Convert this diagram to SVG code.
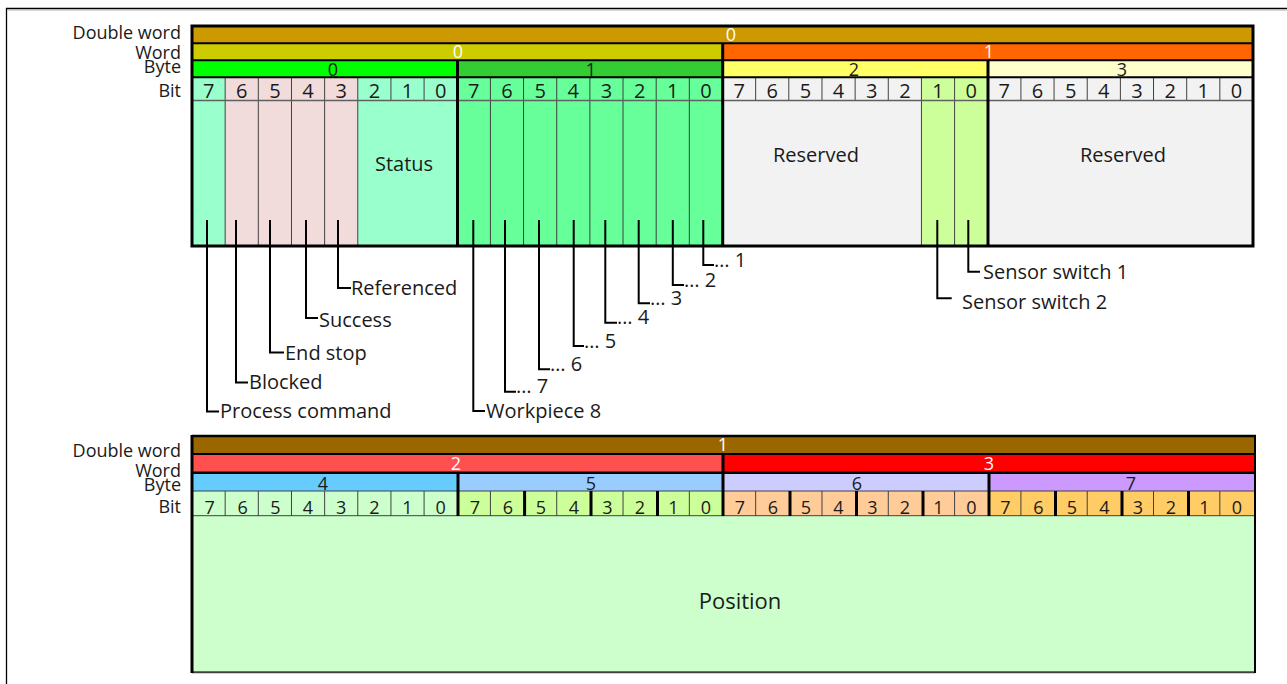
<svg xmlns="http://www.w3.org/2000/svg" width="1287" height="684" viewBox="0 0 1287 684">
<style>
text{font-family:"Open Sans","Liberation Sans",sans-serif;fill:#1a1a1a}
.lbl{font-size:18px;text-anchor:end}
.bit{font-size:20px;text-anchor:middle}
.bitb{font-size:18px;text-anchor:middle}
.bar{font-size:18px;text-anchor:middle}
.wt{fill:#fff}
.ct{font-size:20px}
.big{font-size:20px;text-anchor:middle}
.thin{stroke:#404040;stroke-width:1;fill:none}
.thick{stroke:#000;stroke-width:3;fill:none}
.hl{stroke:#000;stroke-width:2;fill:none}
.co{fill:none;stroke:#000;stroke-width:2}
</style>
<rect width="1287" height="684" fill="#fff"/>
<g id="frame">
<path d="M6.5 684 V8.5 H1287" fill="none" stroke="#000" stroke-width="1.3"/>
<path d="M7.5 10 H1287" fill="none" stroke="#b0b0b0" stroke-width="1"/>
</g>

<!-- ===================== TOP REGISTER ===================== -->
<g id="top-labels">
<text class="lbl" x="181" y="38.5">Double word</text>
<text class="lbl" x="181" y="58.5">Word</text>
<text class="lbl" x="181" y="72.5">Byte</text>
<text class="lbl" x="181" y="96.5">Bit</text>
</g>
<g id="top-dword0">
<rect x="192" y="27" width="1061" height="16" fill="#CC9900"/>
<text class="bar wt" x="731" y="41">0</text>
</g>
<g id="top-word0">
<rect x="192" y="44" width="530.5" height="16" fill="#CCCC00"/>
<text class="bar wt" x="458" y="58">0</text>
</g>
<g id="top-word1">
<rect x="722.5" y="44" width="530.5" height="16" fill="#FF6600"/>
<text class="bar wt" x="989" y="58">1</text>
</g>
<g id="top-byte0">
<rect x="192" y="61" width="265.25" height="16" fill="#00FF00"/>
<text class="bar" x="333" y="76">0</text>
</g>
<g id="top-byte1">
<rect x="457.25" y="61" width="265.25" height="16" fill="#33CC33"/>
<text class="bar" x="591" y="76">1</text>
</g>
<g id="top-byte2">
<rect x="722.5" y="61" width="265.25" height="16" fill="#FFFF66"/>
<text class="bar" x="854" y="76">2</text>
</g>
<g id="top-byte3">
<rect x="987.75" y="61" width="265.25" height="16" fill="#FFFFCC"/>
<text class="bar" x="1122" y="76">3</text>
</g>
<g id="top-columns">
<rect x="192" y="78" width="33.16" height="168" fill="#99FFCC"/>
<rect x="225.16" y="78" width="132.62" height="168" fill="#F2DCDB"/>
<rect x="357.78" y="78" width="99.47" height="168" fill="#99FFCC"/>
<rect x="457.25" y="78" width="265.25" height="168" fill="#66FF99"/>
<rect x="722.5" y="78" width="198.94" height="168" fill="#F2F2F2"/>
<rect x="921.44" y="78" width="66.31" height="168" fill="#CCFF99"/>
<rect x="987.75" y="78" width="265.25" height="168" fill="#F2F2F2"/>
</g>
<g id="top-bits">
<text class="bit" x="208.6" y="98">7</text><text class="bit" x="241.7" y="98">6</text><text class="bit" x="274.9" y="98">5</text><text class="bit" x="308.0" y="98">4</text><text class="bit" x="341.2" y="98">3</text><text class="bit" x="374.4" y="98">2</text><text class="bit" x="407.5" y="98">1</text><text class="bit" x="440.7" y="98">0</text>
<text class="bit" x="473.8" y="98">7</text><text class="bit" x="507.0" y="98">6</text><text class="bit" x="540.1" y="98">5</text><text class="bit" x="573.3" y="98">4</text><text class="bit" x="606.5" y="98">3</text><text class="bit" x="639.6" y="98">2</text><text class="bit" x="672.8" y="98">1</text><text class="bit" x="705.9" y="98">0</text>
<text class="bit" x="739.1" y="98">7</text><text class="bit" x="772.2" y="98">6</text><text class="bit" x="805.4" y="98">5</text><text class="bit" x="838.5" y="98">4</text><text class="bit" x="871.7" y="98">3</text><text class="bit" x="904.9" y="98">2</text><text class="bit" x="938.0" y="98">1</text><text class="bit" x="971.2" y="98">0</text>
<text class="bit" x="1004.3" y="98">7</text><text class="bit" x="1037.5" y="98">6</text><text class="bit" x="1070.6" y="98">5</text><text class="bit" x="1103.8" y="98">4</text><text class="bit" x="1137.0" y="98">3</text><text class="bit" x="1170.1" y="98">2</text><text class="bit" x="1203.3" y="98">1</text><text class="bit" x="1236.4" y="98">0</text>
</g>
<g id="top-grid">
<path class="thin" d="M225.16 78V100M258.31 78V100M291.47 78V100M324.63 78V100M357.78 78V100M390.94 78V100M424.09 78V100M490.41 78V100M523.56 78V100M556.72 78V100M589.88 78V100M623.03 78V100M656.19 78V100M689.34 78V100M755.66 78V100M788.81 78V100M821.97 78V100M855.13 78V100M888.28 78V100M921.44 78V100M954.59 78V100M1020.91 78V100M1054.06 78V100M1087.22 78V100M1120.38 78V100M1153.53 78V100M1186.69 78V100M1219.84 78V100"/>
<path class="thin" d="M225.16 100V246M258.31 100V246M291.47 100V246M324.63 100V246M357.78 100V246M490.41 100V246M523.56 100V246M556.72 100V246M589.88 100V246M623.03 100V246M656.19 100V246M689.34 100V246M921.44 100V246M954.59 100V246"/>
<path d="M192 100.5H1253" stroke="#606060" stroke-width="1.3" fill="none"/>
<path class="hl" d="M192 43.3H1253M192 60.3H1253M192 77.2H1253"/>
<path class="thick" d="M457.5 61V246M722.7 43V246M988 61V246"/>
<rect x="192" y="26" width="1061" height="220" fill="none" stroke="#000" stroke-width="3"/>
</g>
<g id="top-body-labels">
<text class="big" x="404" y="171">Status</text>
<text class="big" x="816" y="162">Reserved</text>
<text class="big" x="1123" y="162">Reserved</text>
</g>

<!-- connectors (callouts) -->
<g id="connectors">
<path class="co" d="M338 220V288H351"/>
<path class="co" d="M306 220V318H318"/>
<path class="co" d="M270 220V352.5H284"/>
<path class="co" d="M236 220V382.5H248"/>
<path class="co" d="M207 220V411.5H219"/>
<path class="co" d="M703.3 220V265H714"/>
<path class="co" d="M672.8 220V285H684"/>
<path class="co" d="M638.7 220V303.3H650"/>
<path class="co" d="M605.3 220V322.7H617"/>
<path class="co" d="M573.7 220V346H584"/>
<path class="co" d="M539 220V369.3H550"/>
<path class="co" d="M505 220V391.7H516"/>
<path class="co" d="M473.3 220V411H485"/>
<path class="co" d="M968.3 220V271.7H980"/>
<path class="co" d="M937.3 220V298.3H951.7"/>
</g>
<g id="callout-labels">
<text class="ct" x="351" y="295">Referenced</text>
<text class="ct" x="319" y="327">Success</text>
<text class="ct" x="285" y="360">End stop</text>
<text class="ct" x="249" y="388.5">Blocked</text>
<text class="ct" x="220" y="418">Process command</text>
<text class="ct" x="714" y="266.5">… 1</text>
<text class="ct" x="684" y="286.5">… 2</text>
<text class="ct" x="650" y="305">… 3</text>
<text class="ct" x="617" y="324">… 4</text>
<text class="ct" x="584" y="347.5">… 5</text>
<text class="ct" x="550" y="371">… 6</text>
<text class="ct" x="516" y="393">… 7</text>
<text class="ct" x="486" y="418">Workpiece 8</text>
<text class="ct" x="983" y="278.5">Sensor switch 1</text>
<text class="ct" x="962" y="308.5">Sensor switch 2</text>
</g>

<!-- ===================== BOTTOM REGISTER ===================== -->
<g id="bottom-labels">
<text class="lbl" x="181" y="457">Double word</text>
<text class="lbl" x="181" y="476.5">Word</text>
<text class="lbl" x="181" y="491">Byte</text>
<text class="lbl" x="181" y="513">Bit</text>
</g>
<g id="bot-dword1">
<rect x="192" y="437" width="1062" height="17" fill="#996600"/>
<text class="bar wt" x="723" y="451">1</text>
</g>
<g id="bot-word2">
<rect x="192" y="455" width="530.5" height="17" fill="#FF5050"/>
<text class="bar wt" x="456" y="470">2</text>
</g>
<g id="bot-word3">
<rect x="722.5" y="455" width="531.5" height="17" fill="#FF0000"/>
<text class="bar wt" x="989" y="470">3</text>
</g>
<g id="bot-byte4">
<rect x="192" y="474" width="265.25" height="17" fill="#66CCFF"/>
<text class="bar" x="323" y="490">4</text>
</g>
<g id="bot-byte5">
<rect x="457.25" y="474" width="265.25" height="17" fill="#99CCFF"/>
<text class="bar" x="591" y="490">5</text>
</g>
<g id="bot-byte6">
<rect x="722.5" y="474" width="265.25" height="17" fill="#CCCCFF"/>
<text class="bar" x="857" y="490">6</text>
</g>
<g id="bot-byte7">
<rect x="987.75" y="474" width="266.25" height="17" fill="#CC99FF"/>
<text class="bar" x="1131" y="490">7</text>
</g>
<g id="bot-bitrow">
<rect x="192" y="491" width="265.25" height="25" fill="#CCFFCC"/>
<rect x="457.25" y="491" width="265.25" height="25" fill="#CCFF99"/>
<rect x="722.5" y="491" width="265.25" height="25" fill="#FFCC99"/>
<rect x="987.75" y="491" width="266.25" height="25" fill="#FFCC66"/>
<text class="bitb" x="209.6" y="514">7</text><text class="bitb" x="242.7" y="514">6</text><text class="bitb" x="275.4" y="514">5</text><text class="bitb" x="308.0" y="514">4</text><text class="bitb" x="341.2" y="514">3</text><text class="bitb" x="374.4" y="514">2</text><text class="bitb" x="407.5" y="514">1</text><text class="bitb" x="440.7" y="514">0</text>
<text class="bitb" x="475" y="514">7</text><text class="bitb" x="508" y="514">6</text><text class="bitb" x="541" y="514">5</text><text class="bitb" x="574" y="514">4</text><text class="bitb" x="607.5" y="514">3</text><text class="bitb" x="640" y="514">2</text><text class="bitb" x="673.5" y="514">1</text><text class="bitb" x="706" y="514">0</text>
<text class="bitb" x="740" y="514">7</text><text class="bitb" x="773" y="514">6</text><text class="bitb" x="806" y="514">5</text><text class="bitb" x="838.5" y="514">4</text><text class="bitb" x="872.5" y="514">3</text><text class="bitb" x="905" y="514">2</text><text class="bitb" x="938.5" y="514">1</text><text class="bitb" x="971.5" y="514">0</text>
<text class="bitb" x="1005.5" y="514">7</text><text class="bitb" x="1038.5" y="514">6</text><text class="bitb" x="1072" y="514">5</text><text class="bitb" x="1104.5" y="514">4</text><text class="bitb" x="1138" y="514">3</text><text class="bitb" x="1171" y="514">2</text><text class="bitb" x="1204.5" y="514">1</text><text class="bitb" x="1237" y="514">0</text>
</g>
<g id="bot-position">
<rect x="192" y="516" width="1062" height="156" fill="#CCFFCC"/>
<text class="big" x="740" y="609" style="font-size:22px">Position</text>
</g>
<g id="bot-grid">
<path class="thin" d="M225.16 491V516M258.31 491V516M291.47 491V516M324.63 491V516M357.78 491V516M390.94 491V516M424.09 491V516M490.41 491V516M556.72 491V516M623.03 491V516M689.34 491V516M755.66 491V516M821.97 491V516M888.28 491V516M954.59 491V516M1020.91 491V516M1087.22 491V516M1153.53 491V516M1219.84 491V516"/>
<path d="M192 491H1254M192 515.7H1254" stroke="#404040" stroke-width="1" fill="none"/>
<path class="hl" d="M192 454H1254"/>
<path d="M192 472.8H1254" stroke="#000" stroke-width="2.5" fill="none"/>
<path class="thick" d="M524.6 491V516M591 491V516M657.5 491V516M790 491V516M856.5 491V516M923 491V516M1055.5 491V516M1122 491V516M1188.5 491V516"/>
<path class="thick" d="M458 472V516M723 454V516M989 472V516"/>
<path d="M192 672.3H1255" stroke="#404040" stroke-width="2" fill="none"/>
<path d="M1255 436V673" stroke="#000" stroke-width="2" fill="none"/>
<path d="M192 436H1256" stroke="#000" stroke-width="2.5" fill="none"/>
<path d="M192 435V673" stroke="#000" stroke-width="3" fill="none"/>
</g>
</svg>
